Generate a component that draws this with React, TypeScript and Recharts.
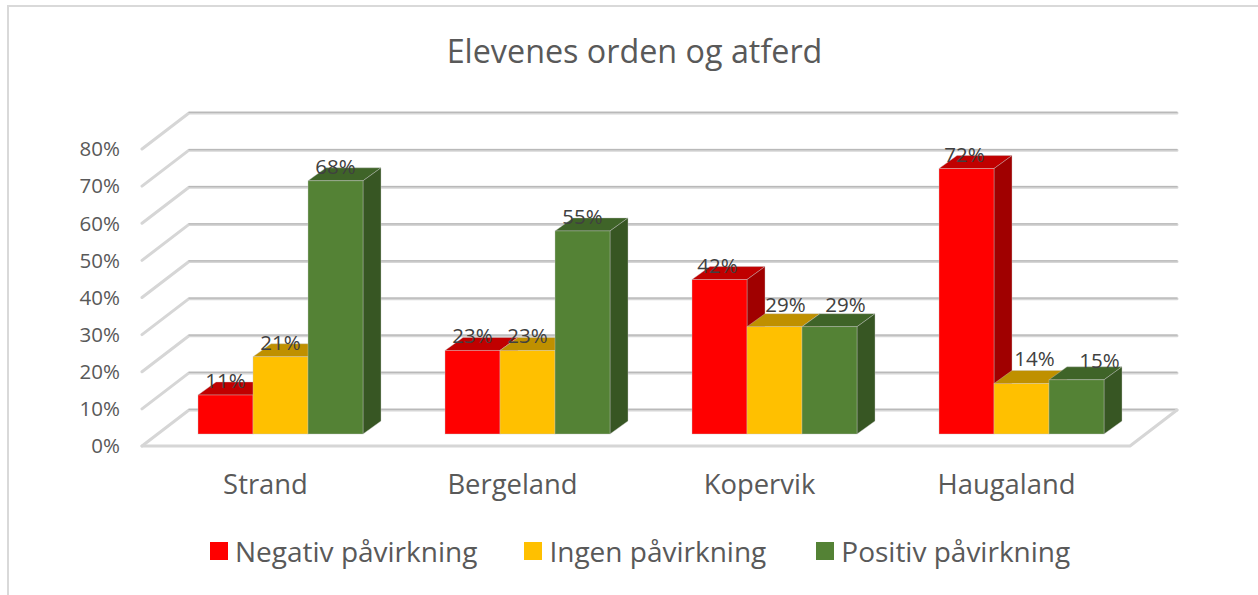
import { BarChart, Bar, XAxis, YAxis, CartesianGrid, Legend, LabelList } from 'recharts'

const categories = ['Strand', 'Bergeland', 'Kopervik', 'Haugaland']
const negativ = [10.5, 22.5, 41.6, 71.5]
const ingen = [20.8, 22.5, 28.9, 13.6]
const positiv = [68.2, 54.7, 28.9, 14.6]
const yTicks = [0, 10, 20, 30, 40, 50, 60, 70, 80]

const chartData = categories.map((name, i) => ({
  name,
  negativ: negativ[i],
  ingen: ingen[i],
  positiv: positiv[i],
}))

// front, top and side face of each series
const SHADES: Record<string, { top: string; side: string }> = {
  '#ff0000': { top: '#c00000', side: '#a00000' },
  '#ffc000': { top: '#bf9000', side: '#a67c00' },
  '#548235': { top: '#3f6428', side: '#375623' },
}

// depth of the chart floor and of a bar, and where the bars sit on the floor
const FLOOR_DX = 47
const FLOOR_DY = 36
const BAR_DX = 18
const BAR_DY = 13
const BAR_SHIFT_X = 15
const BAR_SHIFT_Y = -12

// labels that were dragged away from the default place in the original
const LABEL_NUDGE: Record<string, [number, number]> = {
  'negativ-3': [-2, 0],
  'negativ-2': [-2, 0],
  'ingen-2': [11, -8],
  'positiv-2': [16, -8],
  'ingen-3': [13, -11],
  'positiv-3': [23, -5],
}

const FONT = '"Open Sans", sans-serif'

function Bar3D(props: any) {
  const { x, y, width, height, fill } = props
  const left = x + BAR_SHIFT_X
  const right = left + width
  const top = y + BAR_SHIFT_Y
  const bottom = top + height
  const shade = SHADES[fill]
  return (
    <g stroke="#c9c9c9" strokeOpacity={0.55} strokeWidth={0.7}>
      <polygon
        points={`${left},${top} ${left + BAR_DX},${top - BAR_DY} ${right + BAR_DX},${top - BAR_DY} ${right},${top}`}
        fill={shade.top}
      />
      <polygon
        points={`${right},${top} ${right + BAR_DX},${top - BAR_DY} ${right + BAR_DX},${bottom - BAR_DY} ${right},${bottom}`}
        fill={shade.side}
      />
      <rect x={left} y={top} width={width} height={height} fill={fill} />
    </g>
  )
}

function gridLine(props: any) {
  const { x1, x2, y1, index } = props
  const bx = x1 + FLOOR_DX
  const by = y1 - FLOOR_DY
  const isFloor = y1 > 440
  return (
    <g key={`grid-${index}`} fill="none" strokeLinecap="round" strokeLinejoin="round">
      <polyline points={`${x1},${y1} ${bx},${by} ${x2 + FLOOR_DX},${by}`} stroke="#d6d6d6" strokeWidth={3} />
      <line x1={bx} y1={by - 0.6} x2={x2 + FLOOR_DX} y2={by - 0.6} stroke="#b9b9b9" strokeWidth={1.2} />
      {isFloor && (
        <polyline points={`${x1},${y1} ${x2},${y1} ${x2 + FLOOR_DX},${by}`} stroke="#d6d6d6" strokeWidth={3} />
      )}
    </g>
  )
}

function barLabel(series: string) {
  return (props: any) => {
    const { x, y, width, value, index } = props
    const nudge = LABEL_NUDGE[`${series}-${index}`] ?? [0, 0]
    return (
      <text
        x={x + BAR_SHIFT_X + width / 2 + nudge[0]}
        y={y + BAR_SHIFT_Y - 15 + nudge[1]}
        textAnchor="middle"
        dominantBaseline="central"
        fontFamily={FONT}
        fontSize={20.5}
        fill="#404040"
      >
        {`${Math.round(value)}%`}
      </text>
    )
  }
}

function LegendRow({ payload }: any) {
  const gaps = [47, 50, 0]
  return (
    <div style={{ display: 'flex', paddingLeft: 210, alignItems: 'center', height: 36 }}>
      {(payload ?? []).map((entry: any, i: number) => (
        <div key={entry.value} style={{ display: 'flex', alignItems: 'center', marginRight: gaps[i] }}>
          <span style={{ width: 18, height: 18, background: entry.color, marginRight: 7 }} />
          <span style={{ fontFamily: FONT, fontSize: 28, color: '#595959', whiteSpace: 'nowrap' }}>{entry.value}</span>
        </div>
      ))}
    </div>
  )
}

export default function App() {
  return (
    <div style={{ position: 'absolute', left: 0, top: 0, width: 1258, height: 595, background: '#fff', overflow: 'hidden' }}>
      <div style={{ position: 'absolute', left: 7, top: 5, right: 0, bottom: 0, borderLeft: '2px solid #d9d9d9', borderTop: '2px solid #d9d9d9' }} />
      <div
        style={{
          position: 'absolute',
          left: 0,
          width: 1269,
          top: 28,
          textAlign: 'center',
          fontFamily: FONT,
          fontSize: 32.3,
          lineHeight: '44px',
          color: '#595959',
        }}
      >
        Elevenes orden og atferd
      </div>
      <BarChart
        width={1258}
        height={595}
        data={chartData}
        margin={{ top: 149, right: 128, left: 0, bottom: 109 }}
        barSize={55}
        barGap={0}
      >
        <CartesianGrid vertical={false} horizontal={gridLine} />
        <XAxis
          dataKey="name"
          height={40}
          axisLine={false}
          tickLine={false}
          tickSize={0}
          tickMargin={29}
          interval={0}
          tick={{ fontFamily: FONT, fontSize: 27.4, fill: '#595959' }}
        />
        <YAxis
          width={142}
          domain={[0, 80]}
          ticks={yTicks}
          axisLine={false}
          tickLine={false}
          tickSize={0}
          tickMargin={22}
          tickFormatter={(v) => `${v}%`}
          tick={{ fontFamily: FONT, fontSize: 20.5, fill: '#595959' }}
        />
        <Legend
          layout="horizontal"
          verticalAlign="middle"
          align="center"
          itemSorter={null}
          content={<LegendRow />}
          wrapperStyle={{ top: 533, left: 0, width: 1258 }}
        />
        <Bar dataKey="negativ" name="Negativ påvirkning" fill="#ff0000" shape={<Bar3D />} isAnimationActive={false}>
          <LabelList dataKey="negativ" content={barLabel('negativ')} />
        </Bar>
        <Bar dataKey="ingen" name="Ingen påvirkning" fill="#ffc000" shape={<Bar3D />} isAnimationActive={false}>
          <LabelList dataKey="ingen" content={barLabel('ingen')} />
        </Bar>
        <Bar dataKey="positiv" name="Positiv påvirkning" fill="#548235" shape={<Bar3D />} isAnimationActive={false}>
          <LabelList dataKey="positiv" content={barLabel('positiv')} />
        </Bar>
      </BarChart>
    </div>
  )
}
